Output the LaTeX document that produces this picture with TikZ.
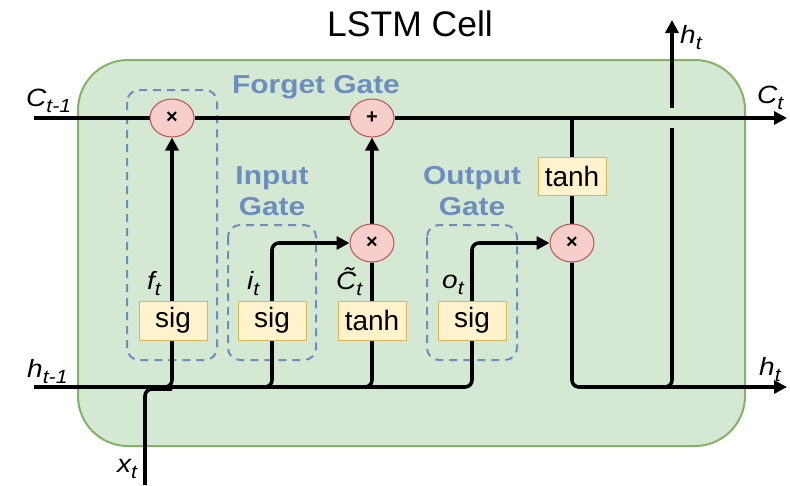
\documentclass[tikz,border=0pt]{standalone}
\usepackage{fontspec}
\setmainfont{Liberation Sans}
\newfontfamily\gatefont[FakeStretch=1.15]{Liberation Sans Bold}
\newfontfamily\labfont[FakeStretch=1.12]{Liberation Sans Italic}
\usetikzlibrary{shapes.geometric,arrows.meta}
\pgfdeclarelayer{back}
\pgfdeclarelayer{mid}
\pgfsetlayers{back,mid,main}
\definecolor{cellfill}{HTML}{D5E8D4}
\definecolor{cellline}{HTML}{82B366}
\definecolor{gateblue}{HTML}{6C8EBF}
\definecolor{opfill}{HTML}{F8CECC}
\definecolor{opline}{HTML}{B85450}
\definecolor{actfill}{HTML}{FFF2CC}
\definecolor{actline}{HTML}{D6B656}
\newcommand\mylbl[2]{{\labfont\fontsize{25}{25}\selectfont #1\raisebox{-6pt}{\fontsize{19}{19}\selectfont #2}}}
\tikzset{
  op/.style={ellipse, draw=opline, fill=opfill, line width=1pt, minimum width=44pt, minimum height=38pt, inner sep=0pt, font=\fontsize{20}{20}\selectfont\bfseries},
  act/.style={rectangle, draw=actline, fill=actfill, line width=1pt, minimum width=68pt, minimum height=39pt, inner sep=0pt, font=\fontsize{28}{28}\selectfont},
  wire/.style={line width=3.6pt, rounded corners=7pt},
  arr/.style={wire, -{Triangle[length=13pt,width=13pt]}},
  gatebox/.style={draw=gateblue, line width=2pt, dash pattern=on 8pt off 6pt, rounded corners=12pt},
  gatelbl/.style={text=gateblue, font=\gatefont\fontsize{26}{30}\selectfont, align=center, inner sep=0pt},
  lbl/.style={anchor=base west, inner sep=0pt},
}
\begin{document}
\begin{tikzpicture}[x=1pt,y=-1pt]
\useasboundingbox (0,0) rectangle (790,485);
% nodes
\node[op] (m1) at (172,118) {×};
\node[op] (pl) at (372,118) {+};
\node[op] (m2) at (372,243) {×};
\node[op] (m3) at (572,243) {×};
\node[act] (s1) at (173,320.5) {sig};
\node[act] (s2) at (272,320.5) {sig};
\node[act] (t1) at (372,320.5) {tanh};
\node[act] (s3) at (472,320.5) {sig};
\node[act, minimum height=38pt] (t2) at (572,176) {tanh};
% coordinates
\coordinate (cin) at (34,118);
\coordinate (cout) at (787,118);
\coordinate (hin) at (34,387);
\coordinate (hout) at (787,387);
\coordinate (xin) at (145,485);
\coordinate (ctap) at (572,118);
\coordinate (hupA) at (672,128);
\coordinate (hupB) at (672,108);
\coordinate (hupT) at (672,20);
% title and labels
\node[anchor=base, inner sep=0pt, font=\fontsize{35.5}{36}\selectfont] (title) at (410,36) {LSTM Cell};
\node[gatelbl, anchor=base] (fg) at (316,93) {Forget Gate};
\node[gatelbl, anchor=base] (ig1) at (272,184) {Input};
\node[gatelbl, anchor=base] (ig2) at (272,215) {Gate};
\node[gatelbl, anchor=base] (og1) at (472,184) {Output};
\node[gatelbl, anchor=base] (og2) at (472,215) {Gate};
\node[lbl] (lc1) at (26,106) {\mylbl{C}{t-1}};
\node[lbl] (lh1) at (27,377) {\mylbl{h}{t-1}};
\node[lbl] (lx) at (117,472) {\mylbl{x}{t}};
\node[lbl] (lf) at (147,289) {\mylbl{f}{t}};
\node[lbl] (li) at (247,289) {\mylbl{i}{t}};
\node[lbl] (lct) at (336,289) {\mylbl{\~{C}}{t}};
\node[lbl] (lo) at (442,288) {\mylbl{o}{t}};
\node[lbl] (lht) at (680,43) {\mylbl{h}{t}};
\node[lbl] (lc) at (757,103) {\mylbl{C}{t}};
\node[lbl] (lh) at (759,375) {\mylbl{h}{t}};
% background cell
\begin{pgfonlayer}{back}
\draw[draw=cellline, fill=cellfill, line width=2pt, rounded corners=50pt] (78,60) rectangle (745,446);
\draw[gatebox] (127,90) rectangle (217,360);
\draw[gatebox] (228,225) rectangle (316,360);
\draw[gatebox] (427,225) rectangle (517,360);
\end{pgfonlayer}
% wires
\begin{pgfonlayer}{mid}
\draw[wire] (cin) -- (m1);
\draw[wire] (m1) -- (pl);
\draw[arr] (pl) -- (cout);
\draw[arr] (hin) -- (472,387) -- (472,243) -- (m3.west);
\draw[wire] (xin) -- (145,389) -- (172,389);
\draw[arr] (150,387) -- (172,387) -- (m1.south);
\draw[arr] (250,387) -- (272,387) -- (272,243) -- (m2.west);
\draw[wire] (350,387) -- (372,387) -- (m2.south);
\draw[arr] (m2.north) -- (pl.south);
\draw[wire] (ctap) -- (m3.north);
\draw[arr] (m3.south) -- (572,387) -- (hout);
\draw[wire] (650,387) -- (672,387) -- (hupA);
\draw[arr] (hupB) -- (hupT);
\end{pgfonlayer}
\end{tikzpicture}
\end{document}
